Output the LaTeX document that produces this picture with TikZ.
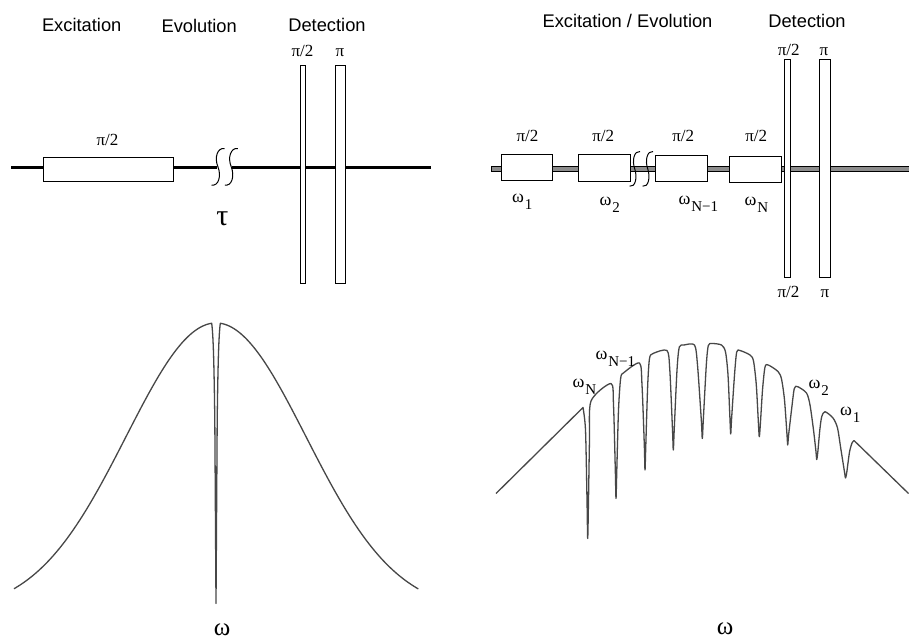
\documentclass[tikz,border=0pt]{standalone}
\usepackage{fontspec}
\setmainfont{Liberation Serif}
\newfontfamily\sansf{Liberation Sans}
\newcommand{\wsub}[1]{ω\kern0.8pt\raisebox{-7pt}{\fontsize{15}{17}\selectfont #1}}
\begin{document}
\begin{tikzpicture}[x=1pt,y=-1pt,
  hd/.style={font=\sansf\fontsize{18.3}{20}\selectfont, inner sep=0pt, anchor=base},
  gk/.style={font=\fontsize{17}{19}\selectfont, inner sep=0pt, anchor=base},
  wl/.style={font=\fontsize{18}{20}\selectfont, inner sep=0pt, anchor=base west},
  bigw/.style={font=\fontsize{25}{27}\selectfont, inner sep=0pt, anchor=base},
  pbox/.style={draw=black, fill=white, line width=1pt},
  curve/.style={draw=black!72, line width=1.3pt, line join=round},
  sqline/.style={draw=black, line width=1pt}]
\useasboundingbox (0,0) rectangle (909,640);
\fill[white] (0,0) rectangle (909,640);

% ---------------- headings ----------------
\node[hd] (exL) at (81.7,31.7) {Excitation};
\node[hd] (evL) at (199.2,32.7) {Evolution};
\node[hd] (deL) at (327,31.7) {Detection};
\node[hd] (exR) at (627.5,27.7) {Excitation / Evolution};
\node[hd] (deR) at (807,27.7) {Detection};

% ---------------- top left sequence ----------------
\draw[line width=3.3pt] (11,167.3) -- (216.5,167.3);
\draw[line width=3.3pt] (231.5,167.3) -- (431,167.3);
\draw[pbox] (43,157) rectangle (173,181);
\draw[pbox] (300,65) rectangle (305.7,283);
\draw[pbox] (335.7,65) rectangle (345.7,283);
\foreach \sx in {224.5,237.8}{
  \draw[sqline, shift={(\sx,148.5)}] (0,0) .. controls (-7,-1) and (-10.5,9) .. (-6.5,18.5)
     .. controls (-3,27.5) and (-6,38) .. (-13,36.5);
}
\node[gk] (pL1) at (107.5,145) {π/2};
\node[gk] (pL2) at (302.5,56.7) {π/2};
\node[gk] (pL3) at (340,56.7) {π};
\node[font=\fontsize{30}{32}\selectfont, inner sep=0pt, anchor=base] (tau) at (222.5,225) {τ};

% ---------------- top right sequence ----------------
\draw[fill=black!45, draw=black, line width=0.8pt] (491,166.8) rectangle (912,171);
\draw[pbox] (501,154.3) rectangle (552.7,180.3);
\draw[pbox] (578.3,154.3) rectangle (630,181.7);
\draw[pbox] (655.7,155.7) rectangle (707.3,181.7);
\draw[pbox] (729,156.7) rectangle (781,182.3);
\draw[pbox] (784.3,59) rectangle (790.7,277);
\draw[pbox] (819.3,59) rectangle (830.7,277);
\foreach \sx in {640,653}{
  \draw[sqline, shift={(\sx,151.5)}, xscale=0.8, yscale=0.95] (0,0) .. controls (-7,-1) and (-10.5,9) .. (-6.5,18.5)
     .. controls (-3,27.5) and (-6,38) .. (-13,36.5);
}
\node[gk] (pR1) at (527.5,141.7) {π/2};
\node[gk] (pR2) at (603.3,141.7) {π/2};
\node[gk] (pR3) at (683.3,141.7) {π/2};
\node[gk] (pR4) at (756.2,141.7) {π/2};
\node[gk] (pR5) at (788.8,55) {π/2};
\node[gk] (pR6) at (824,55) {π};
\node[gk] (pR7) at (788.5,297.3) {π/2};
\node[gk] (pR8) at (825,297.3) {π};
\node[wl] (wR1) at (512,202) {\wsub{1}};
\node[wl] (wR2) at (599.5,205) {\wsub{2}};
\node[wl] (wR3) at (678.5,204) {\wsub{N−1}};
\node[wl] (wR4) at (744.5,205) {\wsub{N}};

% ---------------- bottom left spectrum ----------------
\draw[curve] plot[domain=14:211.7, samples=120] (\x,{612-289*exp(-0.5*((\x-216)/90)*((\x-216)/90))})
  .. controls (213.2,335) and (214,360) .. (214.8,420) -- (216,603.5) -- (217.2,420)
  .. controls (218,360) and (218.8,335) .. (220.3,323.3)
  -- plot[domain=220.3:418.3, samples=120] (\x,{612-289*exp(-0.5*((\x-216)/90)*((\x-216)/90))});
\node[bigw] (wL) at (222,635) {ω};

% ---------------- bottom right spectrum ----------------
\draw[curve] (496,493.5) -- plot[smooth, tension=0.45] coordinates {
 (583,407.5) (585.5,430) (587,500) (587.7,538.5) (588.5,500) (589.5,440) (591,401)
 (611,383.5) (613.5,405) (615.3,470) (616,498.5) (616.8,470) (618.5,410) (620.7,378)
 (624,372.5) (639.5,363) (642,385) (644.3,445) (645,470) (645.8,445) (647.7,385) (649.5,358.5)
 (653,353.5) (667,350.5) (669.8,370) (672.5,430) (673.3,450) (674.2,430) (677,370) (679.3,347)
 (684,345) (694.5,345) (697.5,365) (701.3,420) (702.3,438.5) (703.3,420) (706.3,365) (708.3,345.5)
 (712,343.5) (721.5,345) (725.5,352) (728,375) (730,420) (730.7,434) (731.5,420) (734.5,375) (736.7,352)
 (740,350.5) (750,355) (753.5,361) (756.3,385) (758.5,425) (759.3,436.7) (760.3,425) (762.5,390) (765,367)
 (768.3,365) (778,371.5) (781.5,379) (784.5,400) (787,435) (787.7,445) (788.6,435) (791.5,410) (794.3,388.5)
 (797.7,386.7) (806.5,393) (810,405) (813.5,430) (816,452) (816.7,459.5) (817.8,452) (819.8,430) (821.7,416.7)
 (825,411.7) (833,418) (837.5,428) (841,450) (844.5,472) (845.5,478) (846.8,472) (849.5,452) (852,443)
 (854,440.5)} -- (908.5,493.5);
\node[wl] (wB1) at (572.5,387.5) {\wsub{N}};
\node[wl] (wB2) at (595.5,359.5) {\wsub{N−1}};
\node[wl] (wB3) at (808.5,388.3) {\wsub{2}};
\node[wl] (wB4) at (840,415) {\wsub{1}};
\node[bigw] (wR) at (725,634) {ω};
\end{tikzpicture}
\end{document}
